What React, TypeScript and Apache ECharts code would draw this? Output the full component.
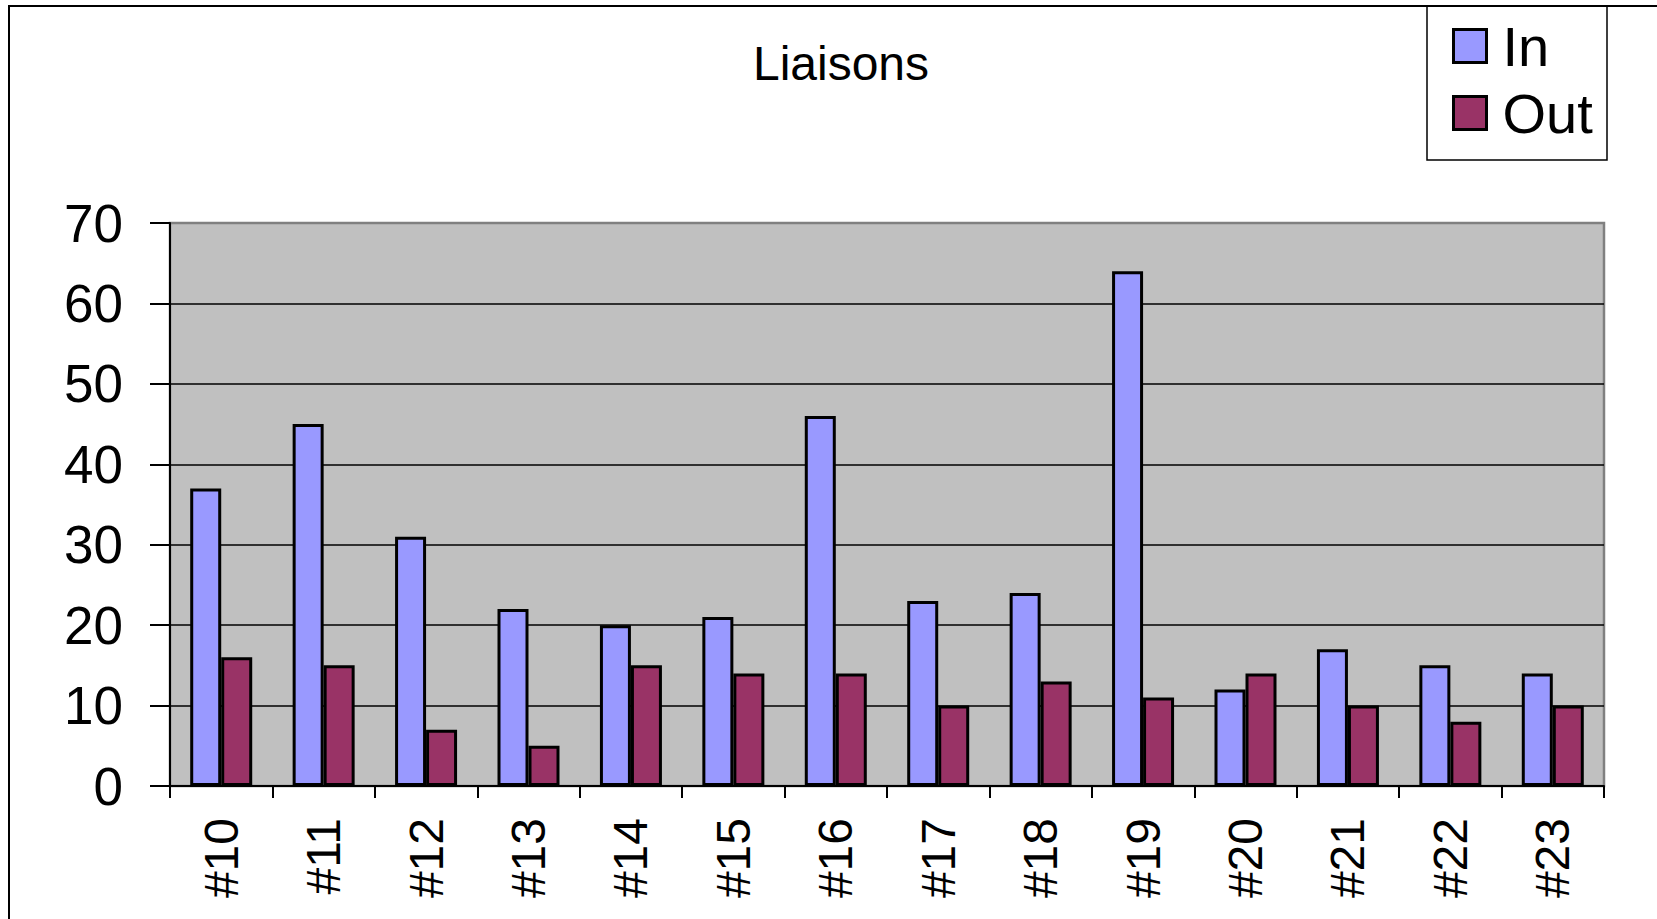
import React, { useEffect, useRef } from "react";
import * as echarts from "echarts";

const categories = ["#10", "#11", "#12", "#13", "#14", "#15", "#16", "#17", "#18", "#19", "#20", "#21", "#22", "#23"];
const inValues = [37, 45, 31, 22, 20, 21, 46, 23, 24, 64, 12, 17, 15, 14];
const outValues = [16, 15, 7, 5, 15, 14, 14, 10, 13, 11, 14, 10, 8, 10];
const seriesNames = ["In", "Out"];
const titleText = "Liaisons";

const FONT = "'Liberation Sans', Arial, Helvetica, sans-serif";

export default function App() {
  const ref = useRef<HTMLDivElement>(null);
  useEffect(() => {
    document.body.style.margin = "0";
    const chart = echarts.init(ref.current!, null, { renderer: "svg" });
    chart.setOption({
      animation: false,
      backgroundColor: "#ffffff",
      grid: {
        left: 170,
        right: 53,
        top: 223,
        bottom: 133,
        show: true,
        backgroundColor: "#c0c0c0",
        borderColor: "#808080",
        borderWidth: 2.5,
      },
      legend: {
        orient: "vertical",
        left: 1452,
        top: 18,
        padding: 0,
        itemWidth: 33,
        itemHeight: 33,
        itemGap: 11,
        icon: "rect",
        itemStyle: { borderColor: "#000", borderWidth: 3 },
        textStyle: { fontSize: 56, fontFamily: FONT, color: "#000", padding: [0, 0, 0, 11] },
        data: seriesNames,
      },
      graphic: [
        {
          type: "rect",
          shape: { x: 9, y: 6, width: 1700, height: 1000 },
          style: { fill: "none", stroke: "#000", lineWidth: 2 },
          silent: true,
          z: -10,
        },
        {
          type: "rect",
          shape: { x: 1427, y: 6, width: 180, height: 154 },
          style: { fill: "none", stroke: "#000", lineWidth: 1.5 },
          silent: true,
        },
        {
          type: "text",
          x: 841,
          y: 63,
          style: {
            text: titleText,
            fontSize: 48,
            fontFamily: FONT,
            fill: "#000",
            align: "center",
            verticalAlign: "middle",
          },
        },
      ],
      xAxis: {
        type: "category",
        data: categories,
        axisLine: { show: true, lineStyle: { color: "#000", width: 2 } },
        axisTick: { show: true, length: 12, lineStyle: { color: "#000", width: 2 } },
        axisLabel: {
          rotate: 90,
          margin: 32,
          fontSize: 48,
          fontFamily: FONT,
          color: "#000",
          interval: 0,
        },
        splitLine: { show: false },
      },
      yAxis: {
        type: "value",
        min: 0,
        max: 70,
        interval: 10,
        axisLine: { show: true, lineStyle: { color: "#000", width: 2 } },
        axisTick: { show: true, length: 20, lineStyle: { color: "#000", width: 2 } },
        axisLabel: { margin: 47, fontSize: 53, fontFamily: FONT, color: "#000" },
        splitLine: {
          show: true,
          lineStyle: {
            color: ["#000", "#000", "#000", "#000", "#000", "#000", "#000", "#808080"],
            width: 1.5,
          },
        },
      },
      series: [
        {
          name: seriesNames[0],
          type: "bar",
          data: inValues,
          barWidth: 31,
          barGap: "0%",
          itemStyle: { color: "#9999ff", borderColor: "#000", borderWidth: 3 },
        },
        {
          name: seriesNames[1],
          type: "bar",
          data: outValues,
          barWidth: 31,
          barGap: "0%",
          itemStyle: { color: "#993366", borderColor: "#000", borderWidth: 3 },
        },
      ],
    });
    return () => chart.dispose();
  }, []);
  return <div ref={ref} style={{ width: 1657, height: 919 }} />;
}
